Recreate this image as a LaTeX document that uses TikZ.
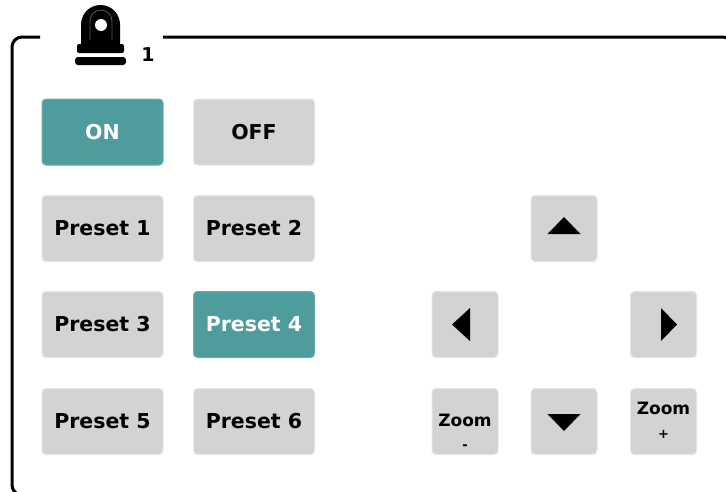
\documentclass[tikz,border=0pt]{standalone}
\usepackage{fontspec}
\setmainfont{DejaVu Sans}
\definecolor{btngray}{HTML}{D2D3D5}
\definecolor{btnedge}{HTML}{E4E5E6}
\definecolor{teal1}{HTML}{4E9C9C}
\definecolor{teal2}{HTML}{6AAEAE}
\tikzset{
  btn/.style={fill=btngray, draw=btnedge, line width=1pt, rounded corners=4pt, inner sep=0pt,
    minimum width=121pt, minimum height=66pt, font=\bfseries\fontsize{20.5}{24}\selectfont, text=black},
  onbtn/.style={btn, fill=teal1, draw=teal2, text=white},
  sqbtn/.style={btn, minimum width=66pt, minimum height=66pt},
  lbl/.style={inner sep=0pt, font=\bfseries\fontsize{17}{20}\selectfont},
  sml/.style={inner sep=0pt, font=\bfseries\fontsize{13}{15}\selectfont},
  tri/.style={fill=black}
}
\begin{document}
\begin{tikzpicture}[x=1pt,y=-1pt]
\useasboundingbox (0,0) rectangle (726,491);
\begin{scope}
\clip (0,0) rectangle (726,491);
% frame
\coordinate (fa) at (40,37);
\coordinate (fb) at (163,37);
\draw[line width=3pt, rounded corners=10pt] (fa) -- (12,37) -- (12,495) -- (733,495) -- (733,37) -- (fb);
\end{scope}
% camera icon
\fill[black] (81,47) -- (81,24.5) arc (180:360:19.5) -- (120,47) -- cycle;
\draw[gray!70!black, line width=0.8pt] (90,40) -- (90,21) arc (180:360:11) -- (112,40);
\fill[white] (101,25) circle (6);
\fill[black, rounded corners=2pt] (77,44) rectangle (124,53);
\fill[black, rounded corners=3pt] (75,57) rectangle (126,65);
\node[inner sep=0pt, font=\bfseries\fontsize{19}{22}\selectfont] (cam) at (148,55) {1};
% buttons
\node[onbtn] (on) at (102.5,132) {ON};
\node[btn] (off) at (254,132) {OFF};
\node[btn] (p1) at (102.5,228.5) {Preset 1};
\node[btn] (p2) at (254,228.5) {Preset 2};
\node[btn] (p3) at (102.5,324.5) {Preset 3};
\node[onbtn] (p4) at (254,324.5) {Preset 4};
\node[btn] (p5) at (102.5,421.5) {Preset 5};
\node[btn] (p6) at (254,421.5) {Preset 6};
% arrows
\node[sqbtn] (up) at (564,228.5) {};
\node[sqbtn] (lt) at (465,324.5) {};
\node[sqbtn] (rt) at (663.5,324.5) {};
\node[sqbtn] (dn) at (564,421.5) {};
\node[sqbtn] (zm) at (465,421.5) {};
\node[sqbtn] (zp) at (663.5,421.5) {};
\fill[tri] ([shift={(0,-11.5)}]up.center) -- ([shift={(16.5,5.5)}]up.center) -- ([shift={(-16.5,5.5)}]up.center) -- cycle;
\fill[tri] ([shift={(0,9.5)}]dn.center) -- ([shift={(16.5,-7.5)}]dn.center) -- ([shift={(-16.5,-7.5)}]dn.center) -- cycle;
\fill[tri] ([shift={(-13,0)}]lt.center) -- ([shift={(5,-16.5)}]lt.center) -- ([shift={(5,16.5)}]lt.center) -- cycle;
\fill[tri] ([shift={(13.5,0)}]rt.center) -- ([shift={(-2.5,-16.5)}]rt.center) -- ([shift={(-2.5,16.5)}]rt.center) -- cycle;
\node[lbl] (zmt) at ([yshift=1.5]zm.center) {Zoom};
\node[sml] (zms) at ([yshift=-25.5]zm.center) {-};
\node[lbl] (zpt) at ([yshift=13.5]zp.center) {Zoom};
\node[sml] (zps) at ([yshift=-12.5]zp.center) {+};
\end{tikzpicture}
\end{document}
